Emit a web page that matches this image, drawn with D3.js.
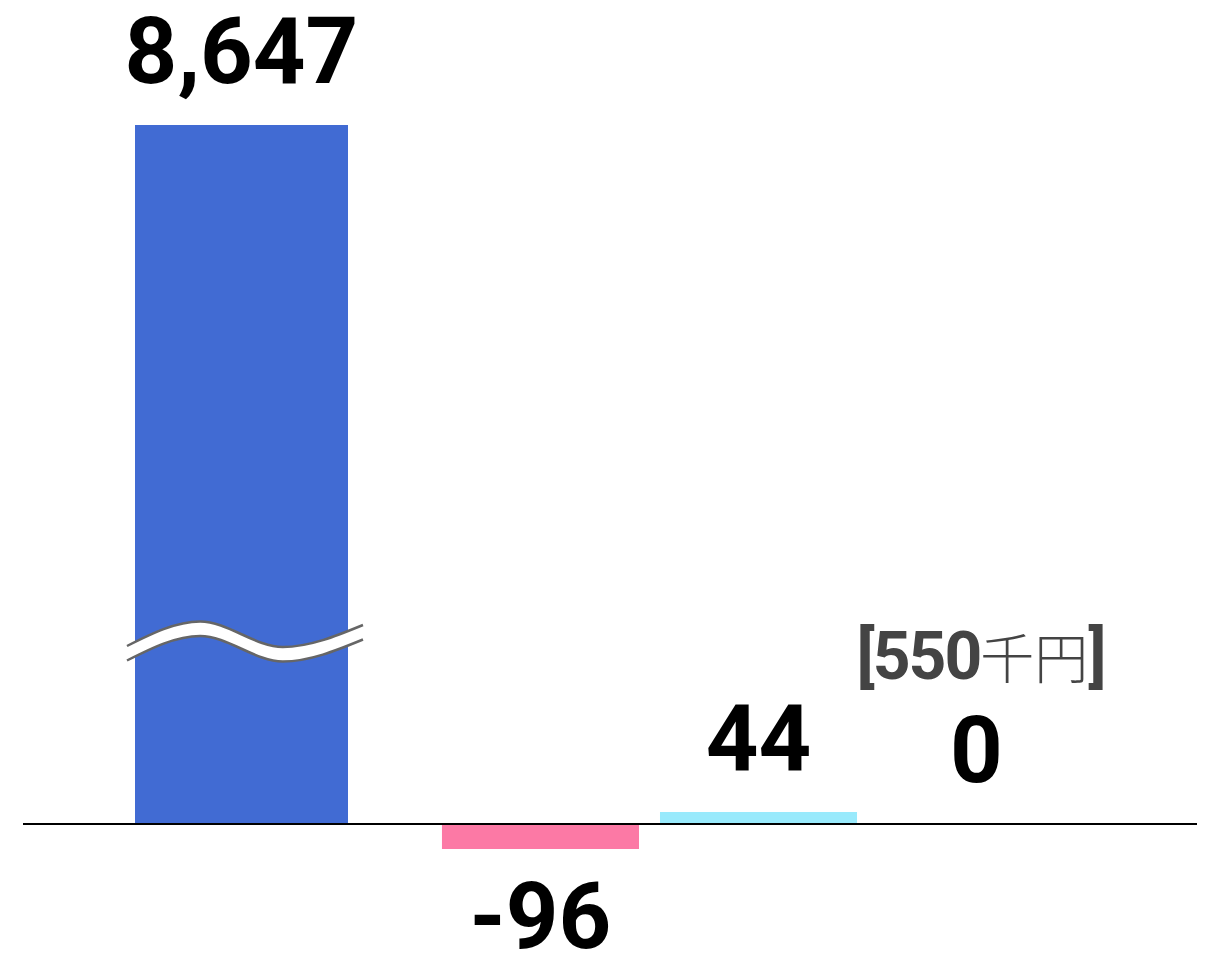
<html>
<head>
<meta charset="utf-8">
<title>千円 bars</title>
<style>
  body { margin: 0; background: #fff; }
  .val { font-family: Roboto, "DejaVu Sans", sans-serif; font-weight: 700; fill: #000; }
  .note { font-family: Roboto, sans-serif; fill: #444; }
</style>
</head>
<body>
<div id="chart"></div>
<script src="https://cdn.jsdelivr.net/npm/d3@7"></script>
<script>
// data
var leadName = ["total"];
var leadValue = [8647];
var restNames = ["minus", "plus", "zero"];
var restValues = [-96, 44, 0];
var colors = ["#416BD3", "#FC79A5", "#99EAFC", "#99EAFC"];
var note = { idx: 2, num: "550", unit: "千円" };

var width = 1209, height = 955;
var capTop = 125;      // broken bar drawn up to here

var svg = d3.select("#chart").append("svg")
  .attr("width", width).attr("height", height);

var y = d3.scaleLinear().domain([-96, 44]).range([849, 812]);

var xLead = d3.scaleBand().domain(leadName).range([135, 348]).padding(0);
var xRest = d3.scaleBand().domain(restNames).range([431.5, 1085.5])
  .paddingInner(0.0963).paddingOuter(0.048);

var bars = [];
leadName.forEach(function(n, i) {
  bars.push({ x: xLead(n), w: xLead.bandwidth(), v: leadValue[i], c: colors[0], broken: true });
});
restNames.forEach(function(n, i) {
  bars.push({ x: xRest(n), w: xRest.bandwidth(), v: restValues[i], c: colors[i + 1], broken: false });
});

function topOf(d) { return d.broken ? capTop : Math.min(y(d.v), y(0)); }
function botOf(d) { return Math.max(y(d.v), y(0)); }

svg.selectAll("rect.bar").data(bars).enter().append("rect")
  .attr("class", "bar")
  .attr("x", function(d) { return d.x; })
  .attr("y", topOf)
  .attr("width", function(d) { return d.w; })
  .attr("height", function(d) { return botOf(d) - topOf(d); })
  .attr("fill", function(d) { return d.c; });

// zero line
svg.append("line")
  .attr("x1", 23).attr("x2", 1197)
  .attr("y1", Math.round(y(0))).attr("y2", Math.round(y(0)))
  .attr("stroke", "#000").attr("stroke-width", 2);

// break mark on the tall bar
var b0 = bars[0];
var wx = d3.scaleLinear().domain([0, 1]).range([b0.x - 8, b0.x + b0.w + 15]);
var wave = [[0, 646], [0.31, 621.5], [0.66, 647], [1, 625]];
var gap = 14.5;
var upper = d3.line().x(function(d) { return wx(d[0]); }).y(function(d) { return d[1]; }).curve(d3.curveMonotoneX);
var lower = d3.line().x(function(d) { return wx(d[0]); }).y(function(d) { return d[1] + gap; }).curve(d3.curveMonotoneX);
var band = d3.area().x(function(d) { return wx(d[0]); })
  .y0(function(d) { return d[1]; }).y1(function(d) { return d[1] + gap; }).curve(d3.curveMonotoneX);
svg.append("path").attr("d", band(wave)).attr("fill", "#fff");
svg.append("path").attr("d", upper(wave)).attr("fill", "none").attr("stroke", "#666").attr("stroke-width", 2.5);
svg.append("path").attr("d", lower(wave)).attr("fill", "none").attr("stroke", "#666").attr("stroke-width", 2.5);

// value labels
var fmt = d3.formatLocale({ decimal: ".", thousands: ",", grouping: [3], currency: ["", ""], minus: "-" }).format(",");
svg.selectAll("text.val").data(bars).enter().append("text")
  .attr("class", "val")
  .attr("font-size", 92)
  .attr("text-anchor", "middle")
  .attr("x", function(d) { return d.x + d.w / 2; })
  .attr("y", function(d) { return d.v < 0 ? botOf(d) + 99 : topOf(d) - 42; })
  .text(function(d) { return fmt(d.v); });

// unit note above the zero label
var nb = bars[note.idx + 1];
var t = svg.append("text").attr("class", "note")
  .attr("text-anchor", "middle")
  .attr("x", nb.x + nb.w / 2 + 5)
  .attr("y", topOf(nb) - 42 - 103);
t.append("tspan").attr("font-weight", 700).attr("font-size", 66).attr("letter-spacing", -2).text("[" + note.num);
t.append("tspan").attr("font-family", "'Noto Sans CJK JP'").attr("font-weight", 300).attr("font-size", 54).text(note.unit);
t.append("tspan").attr("font-weight", 700).attr("font-size", 66).text("]");
</script>
</body>
</html>
